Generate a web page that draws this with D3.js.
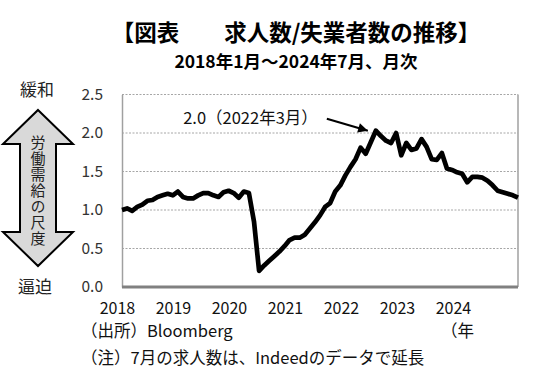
<!DOCTYPE html>
<html>
<head>
<meta charset="utf-8">
<script src="https://cdn.jsdelivr.net/npm/d3@7"></script>
<style>
  body { margin: 0; background: #fff; }
  text { font-family: "Noto Sans CJK JP", "Noto Sans", sans-serif; }
</style>
</head>
<body>
<div id="chart"></div>
<script>
// 求人数/失業者数, monthly, 2018/1 - 2024/7
const ratio2018 = [1.00, 1.02, 0.99, 1.04, 1.07, 1.12, 1.13, 1.17, 1.19, 1.21, 1.19, 1.24];
const ratio2019 = [1.17, 1.15, 1.15, 1.19, 1.22, 1.22, 1.19, 1.17, 1.23, 1.25, 1.22, 1.16];
const ratio2020 = [1.24, 1.22, 0.85, 0.21, 0.28, 0.34, 0.40, 0.46, 0.53, 0.61, 0.64, 0.64];
const ratio2021 = [0.68, 0.76, 0.84, 0.93, 1.04, 1.09, 1.24, 1.32, 1.45, 1.56, 1.66, 1.81];
const ratio2022 = [1.73, 1.88, 2.03, 1.96, 1.90, 1.87, 2.00, 1.71, 1.87, 1.78, 1.80, 1.92];
const ratio2023 = [1.82, 1.66, 1.65, 1.74, 1.54, 1.52, 1.49, 1.47, 1.36, 1.43, 1.43, 1.42];
const ratio2024 = [1.38, 1.32, 1.25, 1.23, 1.21, 1.19, 1.16];

const yearLabels = ["2018", "2019", "2020", "2021", "2022", "2023", "2024"];
const yTicks = [0, 0.5, 1.0, 1.5, 2.0, 2.5];
const peakIndex = 12 * 4 + 2; // 2022年3月
const peakLabel = "2.0（2022年3月）";
const scaleText = "労働需給の尺度";

const values = [].concat(ratio2018, ratio2019, ratio2020, ratio2021, ratio2022, ratio2023, ratio2024);

const width = 559, height = 383;
const margin = { top: 94.5, right: 41, bottom: 96, left: 122 };
const graphWidth = width - margin.left - margin.right;
const graphHeight = height - margin.top - margin.bottom;

const svg = d3.select("#chart").append("svg")
    .attr("width", width)
    .attr("height", height);

svg.append("rect").attr("width", width).attr("height", height).attr("fill", "#fff");

// titles
svg.append("text")
    .attr("x", 296).attr("y", 41)
    .attr("text-anchor", "middle")
    .attr("font-size", 22.5).attr("font-weight", 700)
    .text("【図表　　求人数/失業者数の推移】");

svg.append("text")
    .attr("x", 296).attr("y", 68)
    .attr("text-anchor", "middle")
    .attr("font-size", 17.5).attr("font-weight", 700)
    .text("2018年1月～2024年7月、月次");

const graph = svg.append("g")
    .attr("transform", `translate(${margin.left}, ${margin.top})`);

// scales
const x = d3.scaleLinear().domain([0, values.length - 1]).range([0, graphWidth]);
const y = d3.scaleLinear().domain([0, 2.5]).range([graphHeight, 0]);

// gridlines
graph.selectAll("line.grid")
    .data(yTicks.filter(d => d > 0))
    .enter().append("line")
    .attr("class", "grid")
    .attr("x1", 0).attr("x2", graphWidth)
    .attr("y1", d => y(d)).attr("y2", d => y(d))
    .attr("stroke", "#a6a6a6")
    .attr("stroke-width", 1)
    .attr("stroke-dasharray", "2,1.5");

// right border
graph.append("line")
    .attr("x1", graphWidth).attr("x2", graphWidth)
    .attr("y1", y(2.5)).attr("y2", y(0))
    .attr("stroke", "#a0a0a0").attr("stroke-width", 1.5);

// y axis
const yAxisGroup = graph.append("g")
    .call(d3.axisLeft(y).tickValues(yTicks).tickSize(0).tickPadding(19).tickFormat(d3.format(".1f")));
yAxisGroup.select("path.domain").attr("stroke", "#a0a0a0").attr("stroke-width", 1.5);
yAxisGroup.selectAll("text")
    .attr("font-size", 15.5)
    .attr("fill", "#333")
    .attr("font-family", "\"Noto Sans CJK JP\", sans-serif");

// bottom axis line
graph.append("line")
    .attr("x1", 0).attr("x2", graphWidth)
    .attr("y1", y(0)).attr("y2", y(0))
    .attr("stroke", "#808080").attr("stroke-width", 3);

// year labels row
const xYears = d3.scalePoint().domain(yearLabels).range([117, 453]);
const xAxisGroup = svg.append("g")
    .attr("transform", "translate(0, 303)")
    .call(d3.axisBottom(xYears).tickSize(0).tickPadding(0));
xAxisGroup.select("path.domain").remove();
xAxisGroup.selectAll("text")
    .attr("font-size", 16)
    .attr("fill", "#111")
    .attr("font-family", "\"Noto Sans CJK JP\", sans-serif");

// line
const line = d3.line()
    .x((d, i) => x(i))
    .y(d => y(d));

graph.append("path")
    .datum(values)
    .attr("fill", "none")
    .attr("stroke", "#000")
    .attr("stroke-width", 4.7)
    .attr("stroke-linejoin", "round")
    .attr("d", line);

// peak annotation
const px = x(peakIndex), py = y(values[peakIndex]);
svg.append("defs").append("marker")
    .attr("id", "head")
    .attr("viewBox", "0 0 10 10")
    .attr("refX", 10).attr("refY", 5)
    .attr("markerWidth", 5).attr("markerHeight", 4.4)
    .attr("markerUnits", "strokeWidth")
    .attr("orient", "auto")
    .append("path").attr("d", "M0,0 L10,5 L0,10 Z").attr("fill", "#000");

graph.append("line")
    .attr("x1", px - 49).attr("y1", py - 12)
    .attr("x2", px - 8).attr("y2", py)
    .attr("stroke", "#000").attr("stroke-width", 2.2)
    .attr("marker-end", "url(#head)");

graph.append("text")
    .attr("x", px - 58).attr("y", py - 7)
    .attr("text-anchor", "end")
    .attr("font-size", 16.5)
    .attr("fill", "#111")
    .text(peakLabel);

// left side: double arrow
const cx = 38;
const arrow = d3.path();
arrow.moveTo(cx, 110);
arrow.lineTo(cx + 35, 144);
arrow.lineTo(cx + 18, 144);
arrow.lineTo(cx + 18, 232);
arrow.lineTo(cx + 35, 232);
arrow.lineTo(cx, 266);
arrow.lineTo(cx - 35, 232);
arrow.lineTo(cx - 18, 232);
arrow.lineTo(cx - 18, 144);
arrow.lineTo(cx - 35, 144);
arrow.closePath();

svg.append("path")
    .attr("d", arrow.toString())
    .attr("fill", "#d9d9d9")
    .attr("stroke", "#000")
    .attr("stroke-width", 2)
    .attr("stroke-linejoin", "miter");

svg.append("text")
    .attr("x", cx)
    .attr("y", 191)
    .attr("writing-mode", "vertical-rl")
    .attr("text-anchor", "middle")
    .attr("font-size", 15)
    .attr("letter-spacing", 1)
    .attr("fill", "#222")
    .text(scaleText);

svg.append("text")
    .attr("x", 37).attr("y", 96)
    .attr("text-anchor", "middle")
    .attr("font-size", 17).attr("fill", "#222")
    .text("緩和");

svg.append("text")
    .attr("x", 35).attr("y", 293)
    .attr("text-anchor", "middle")
    .attr("font-size", 17).attr("fill", "#222")
    .text("逼迫");

// footnotes
svg.append("text")
    .attr("x", 81).attr("y", 337)
    .attr("font-size", 16.5).attr("fill", "#111")
    .text("（出所）Bloomberg");

svg.append("text")
    .attr("x", 474).attr("y", 337)
    .attr("text-anchor", "end")
    .attr("font-size", 16.5).attr("fill", "#111")
    .text("（年");

svg.append("text")
    .attr("x", 81).attr("y", 364)
    .attr("font-size", 16.5).attr("fill", "#111")
    .text("（注）7月の求人数は、Indeedのデータで延長");
</script>
</body>
</html>
